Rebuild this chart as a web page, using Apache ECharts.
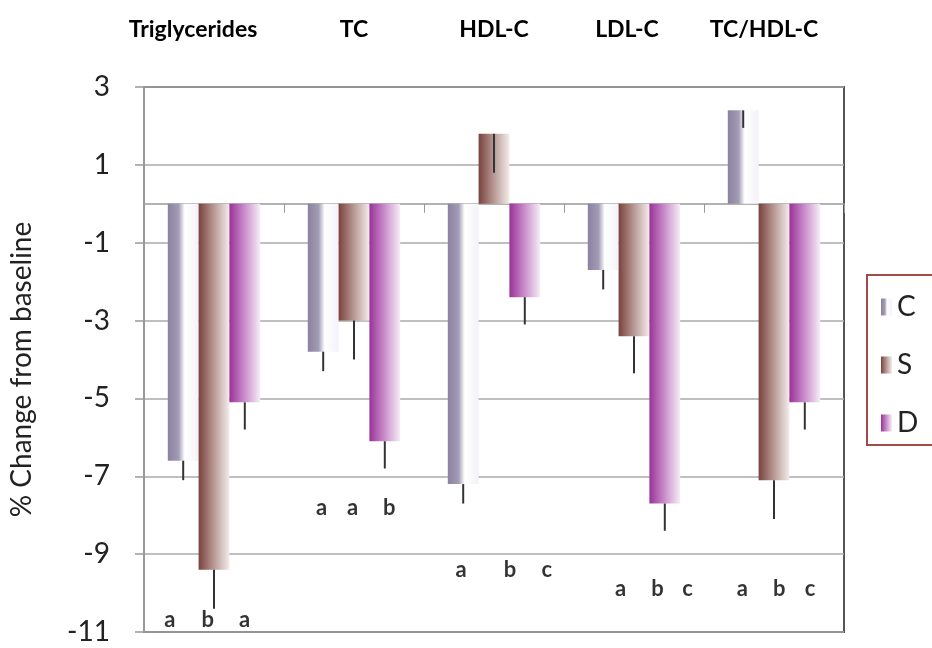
<!DOCTYPE html>
<html>
<head>
<meta charset="utf-8">
<script src="https://cdn.jsdelivr.net/npm/echarts@6/dist/echarts.min.js"></script>
<style>
html,body{margin:0;padding:0;background:#fff;}
#chart{width:932px;height:648px;}
</style>
</head>
<body>
<div id="chart"></div>
<script>
// lipid outcomes, % change from baseline
var categories=['Triglycerides','TC','HDL-C','LDL-C','TC/HDL-C'];
var groups=['C','S','D'];
var valC=[-6.6,-3.8,-7.2,-1.7,2.4];
var valS=[-9.4,-3.0,1.8,-3.4,-7.1];
var valD=[-5.1,-6.1,-2.4,-7.7,-5.1];
// where each error whisker ends
var errC=[-7.1,-4.3,-7.7,-2.2,1.95];
var errS=[-10.4,-4.0,0.8,-4.35,-8.1];
var errD=[-5.8,-6.8,-3.1,-8.4,-5.8];
// significance letters
var letterText=['a','b','a','a','a','b','a','b','c','a','b','c','a','b','c'];
var letterX=[0.185,0.456,0.719,1.268,1.489,1.752,2.265,2.614,2.877,3.405,3.668,3.882,4.274,4.537,4.758];
var letterY=[-10.7,-10.7,-10.7,-7.8,-7.8,-7.8,-9.4,-9.4,-9.4,-9.9,-9.9,-9.9,-9.9,-9.9,-9.9];

var font='Lato';
function grad(c0,c1,c2){
	return new echarts.graphic.LinearGradient(0,0,1,0,[
		{offset:0,color:c0},{offset:0.5,color:c1},{offset:1,color:c2}
	]);
}
var colors=[
	new echarts.graphic.LinearGradient(0,0,1,0,[
		{offset:0,color:'#8a829e'},{offset:0.35,color:'#a39cb6'},{offset:0.55,color:'#ffffff'},{offset:1,color:'#f4f2f8'}
	]),
	grad('#7a423d','#b89995','#f3eceb'),
	grad('#9a3298','#ca8fcb','#f6eef6')
];

var vals=[valC,valS,valD];
var errs=[errC,errS,errD];
var errData=[];
for(var s=0;s<3;s++){
	for(var i=0;i<categories.length;i++){
		errData.push([i,vals[s][i],errs[s][i],s]);
	}
}
var letterData=[];
for(var i=0;i<letterText.length;i++){
	letterData.push({value:[letterX[i],letterY[i]],name:letterText[i]});
}

var barSeries=[];
for(var s=0;s<3;s++){
	barSeries.push({
		name:groups[s],
		type:'bar',
		xAxisIndex:0,
		barGap:'0%',
		barCategoryGap:'34%',
		itemStyle:{color:colors[s]},
		data:vals[s]
	});
}

var chart=echarts.init(document.getElementById('chart'));
var option={
	animation:false,
	textStyle:{fontFamily:font},
	grid:{left:142,top:87,right:88,bottom:16,show:true,borderColor:'#555',borderWidth:2,backgroundColor:'transparent'},
	legend:{
		orient:'vertical',
		left:867,
		top:275,
		data:groups,
		icon:'rect',
		itemWidth:11,
		itemHeight:17,
		itemGap:30,
		borderColor:'#a04a4a',
		borderWidth:2,
		padding:[18,70,8,14],
		textStyle:{fontSize:28,color:'#222',fontFamily:font,lineHeight:28}
	},
	xAxis:[{
		type:'category',
		data:categories,
		axisLine:{onZero:true,lineStyle:{color:'#999',width:1.5}},
		axisTick:{show:true,length:9,lineStyle:{color:'#999'}},
		axisLabel:{show:false},
		splitLine:{show:false}
	},{
		type:'category',
		position:'top',
		data:[
			{value:'Triglycerides',textStyle:{padding:[0,42,0,0]}},
			'TC',
			'HDL-C',
			{value:'LDL-C',textStyle:{padding:[0,14,0,0]}},
			{value:'TC/HDL-C',textStyle:{padding:[0,20,0,0]}}
		],
		axisLine:{show:false},
		axisTick:{show:false},
		axisLabel:{interval:0,hideOverlap:false,margin:46,fontSize:23,fontWeight:'bold',color:'#000',fontFamily:font}
	},{
		type:'value',
		min:0,
		max:5,
		show:false
	}],
	yAxis:{
		type:'value',
		min:-11,
		max:3,
		interval:2,
		name:'% Change from baseline',
		nameLocation:'middle',
		nameGap:108,
		nameRotate:90,
		nameTextStyle:{fontSize:28,color:'#222',fontFamily:font,padding:[0,20,0,0]},
		axisLine:{show:true,lineStyle:{color:'#999',width:2}},
		axisTick:{show:true,length:9,lineStyle:{color:'#999',width:1.5}},
		axisLabel:{fontSize:28,color:'#222',margin:34,fontFamily:font},
		splitLine:{lineStyle:{color:'#aaa',width:1.5}}
	},
	series:barSeries.concat([{
		type:'custom',
		xAxisIndex:0,
		data:errData,
		z:5,
		renderItem:function(params,api){
			var c=api.value(0),v=api.value(1),e=api.value(2),s=api.value(3);
			var band=api.size([1,0])[0];
			var bw=band*0.66/3;
			var p1=api.coord([c,v]);
			var p2=api.coord([c,e]);
			var x=p1[0]+(s-1)*bw;
			return {type:'line',shape:{x1:x,y1:p1[1],x2:x,y2:p2[1]},style:{stroke:'#333',lineWidth:2}};
		}
	},{
		type:'scatter',
		xAxisIndex:2,
		symbolSize:0,
		data:letterData,
		label:{show:true,position:'inside',formatter:'{b}',fontSize:22,fontWeight:'bold',color:'#000',fontFamily:font}
	}])
};
chart.setOption(option);
</script>
</body>
</html>
